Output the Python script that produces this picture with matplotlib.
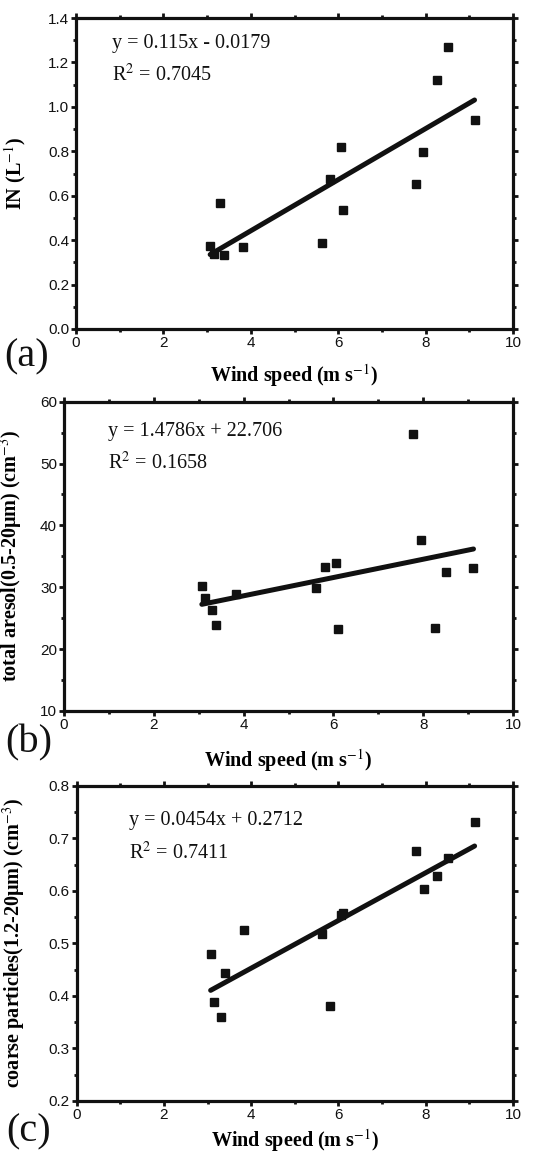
import numpy as np
import matplotlib
matplotlib.use("Agg")
import matplotlib.pyplot as plt
from matplotlib.ticker import MultipleLocator, FormatStrFormatter

plt.rcParams['font.family'] = ['Liberation Sans', 'DejaVu Sans']
plt.rcParams['mathtext.fontset'] = 'stix'

# Wind speed (m s-1), shared by all three panels
wind = [3.07, 3.15, 3.30, 3.39, 3.83, 5.62, 5.81, 6.06, 6.11, 7.77, 7.95, 8.26, 8.51, 9.12]

# Ice nuclei concentration (L-1)
ice_nuclei = [0.374, 0.338, 0.569, 0.333, 0.368, 0.389, 0.674, 0.820, 0.536,
              0.652, 0.796, 1.119, 1.268, 0.942]
# Total aerosol 0.5-20 um (cm-3)
total_aerosol = [30.2, 28.2, 26.4, 23.9, 28.9, 29.9, 33.3, 33.9, 23.2,
                 54.8, 37.6, 23.4, 32.4, 33.1]
# Coarse particles 1.2-20 um (cm-3)
coarse = [0.480, 0.389, 0.360, 0.444, 0.525, 0.517, 0.381, 0.553, 0.557,
          0.676, 0.603, 0.629, 0.662, 0.731]

# Linear fits: slope, intercept, R^2
fit_a = (0.115, -0.0179, 0.7045)
fit_b = (1.4786, 22.706, 0.1658)
fit_c = (0.0454, 0.2712, 0.7411)

W, H = 535, 1154
fig = plt.figure(figsize=(W / 100, H / 100), dpi=100)

SERIF = 'Liberation Serif'
INK = '#111111'


def px_axes(left, top, right, bottom):
    return fig.add_axes([left / W, 1 - bottom / H, (right - left) / W, (bottom - top) / H])


def panel(ax, y, fit, ylim, ymajor, yminor, yfmt, ylabel, ylab_size, eq_text, r2_text,
          txt_xy, ylab_x, xlab_y):
    ax.plot(wind, y, 's', color=INK, markersize=5.2, zorder=3)
    slope, icpt, _ = fit
    xs = np.array([min(wind), max(wind)])
    ax.plot(xs, slope * xs + icpt, '-', color=INK, lw=3.6, solid_capstyle='round', zorder=2)

    ax.set_xlim(0, 10)
    ax.set_ylim(*ylim)
    ax.xaxis.set_major_locator(MultipleLocator(2))
    ax.xaxis.set_minor_locator(MultipleLocator(1))
    ax.yaxis.set_major_locator(MultipleLocator(ymajor))
    ax.yaxis.set_minor_locator(MultipleLocator(yminor))
    ax.yaxis.set_major_formatter(FormatStrFormatter(yfmt))
    ax.xaxis.set_major_formatter(FormatStrFormatter('%d'))

    for s in ax.spines.values():
        s.set_linewidth(2.3)
        s.set_color(INK)
    ax.tick_params(which='major', direction='out', length=3.5, width=2.0,
                   labelsize=11, pad=1.5, colors=INK, top=True, right=True)
    ax.tick_params(which='minor', direction='out', length=2.0, width=2.0,
                   colors=INK, top=True, right=True)

    ax.set_ylabel(ylabel, family=SERIF, fontweight='bold', fontsize=ylab_size)
    ax.yaxis.set_label_coords(ylab_x, 0.5)
    ax.set_xlabel('Wind speed (m s$^{-1}$)', family=SERIF, fontweight='bold', fontsize=14.5)
    ax.xaxis.set_label_coords(0.5, xlab_y)

    ax.text(txt_xy[0], txt_xy[1], eq_text, transform=ax.transAxes,
            family=SERIF, fontsize=14.5, va='top', ha='left', color=INK)
    ax.text(txt_xy[0], txt_xy[1] - 0.098, r2_text, transform=ax.transAxes,
            family=SERIF, fontsize=14.5, va='top', ha='left', color=INK)


ax_a = px_axes(76, 18, 513, 329)
panel(ax_a, ice_nuclei, fit_a, (0, 1.4), 0.2, 0.1, '%.1f',
      'IN (L$^{-1}$)', 14.5,
      'y = 0.115x - 0.0179', 'R$^{2}$ = 0.7045',
      (0.082, 0.95), -0.109, -0.105)

ax_b = px_axes(64, 401.7, 513, 711)
panel(ax_b, total_aerosol, fit_b, (10, 60), 10, 5, '%d',
      'total aresol(0.5-20\u03bcm) (cm$^{-3}$)', 14.5,
      'y = 1.4786x + 22.706', 'R$^{2}$ = 0.1658',
      (0.098, 0.935), -0.087, -0.117)

ax_c = px_axes(76.7, 785.7, 513, 1101)
panel(ax_c, coarse, fit_c, (0.2, 0.8), 0.1, 0.05, '%.1f',
      'coarse particles(1.2-20\u03bcm) (cm$^{-3}$)', 14.5,
      'y = 0.0454x + 0.2712', 'R$^{2}$ = 0.7411',
      (0.12, 0.92), -0.112, -0.082)

for label, (cx, cy) in zip(['(a)', '(b)', '(c)'], [(27, 357), (29, 743), (29, 1132)]):
    fig.text(cx / W, 1 - cy / H, label, family=SERIF, fontsize=29,
             ha='center', va='center', color=INK)

fig.savefig('out.png', dpi=100)
